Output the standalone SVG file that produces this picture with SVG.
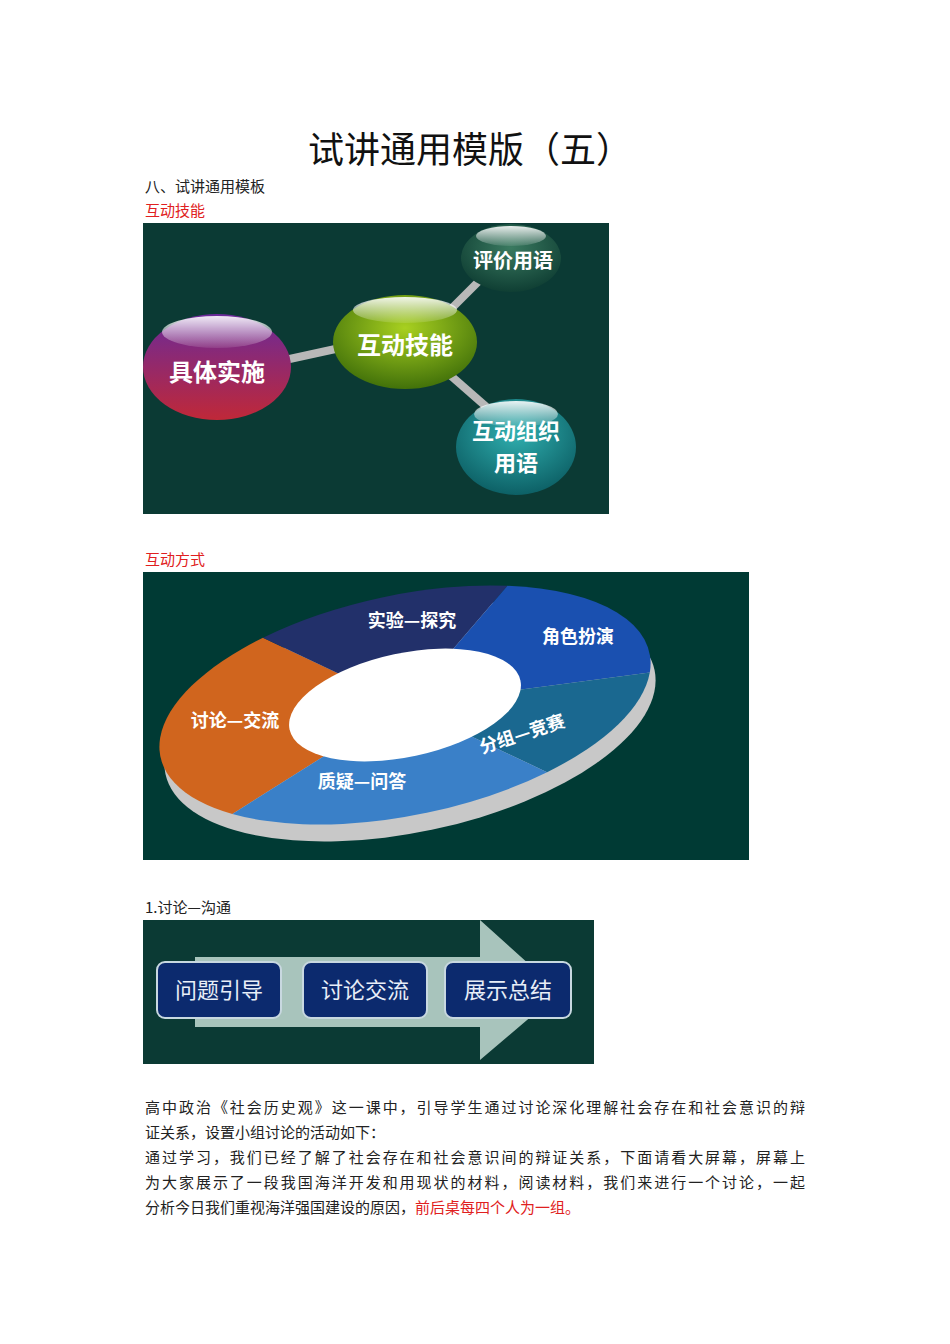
<svg xmlns="http://www.w3.org/2000/svg" width="950" height="1344" viewBox="0 0 950 1344">
<style>
text{font-family:"Noto Sans CJK SC","Liberation Sans",sans-serif}
.p{font-size:15px;fill:#222}
.r{font-size:15px;fill:#e02020}
.nl{font-size:24px;font-weight:bold;fill:#fff;text-anchor:middle}
.bx{fill:#0c2a6e;stroke:#c8d8e0;stroke-width:2}
.bt{font-size:22px;fill:#e8eef8;text-anchor:middle}
</style>
<defs>
<linearGradient id="gp" x1="0" y1="0" x2="0" y2="1"><stop offset="0" stop-color="#6a2a9a"/><stop offset="1" stop-color="#c02838"/></linearGradient>
<radialGradient id="gg" cx="0.5" cy="0.35" r="0.7"><stop offset="0" stop-color="#a8d020"/><stop offset="1" stop-color="#3a6a08"/></radialGradient>
<radialGradient id="gd" cx="0.5" cy="0.35" r="0.7"><stop offset="0" stop-color="#3a7a60"/><stop offset="1" stop-color="#0c3a30"/></radialGradient>
<radialGradient id="gt" cx="0.5" cy="0.35" r="0.7"><stop offset="0" stop-color="#30b0b0"/><stop offset="1" stop-color="#0a5a60"/></radialGradient>
<linearGradient id="sh" x1="0" y1="0" x2="0" y2="1"><stop offset="0" stop-color="#fff" stop-opacity="0.9"/><stop offset="1" stop-color="#fff" stop-opacity="0.1"/></linearGradient>
</defs>
<text x="470" y="163" font-size="36" text-anchor="middle" fill="#111">试讲通用模版（五）</text>
<text class="p" x="145" y="192">八、试讲通用模板</text>
<text class="r" x="145" y="216">互动技能</text>
<g id="pic1">
<rect x="143" y="223" width="466" height="291" fill="#0b3a34"/>
<g id="connectors" stroke="#b8b8b8" stroke-width="8">
<line x1="285" y1="360" x2="340" y2="348"/>
<line x1="450" y1="310" x2="480" y2="280"/>
<line x1="450" y1="375" x2="490" y2="410"/>
</g>
<g id="n1"><ellipse cx="217" cy="367" rx="74" ry="53" fill="url(#gp)"/><ellipse cx="217" cy="332" rx="55" ry="16" fill="url(#sh)"/><text class="nl" x="217" y="381">具体实施</text></g>
<g id="n2"><ellipse cx="405" cy="342" rx="72" ry="47" fill="url(#gg)"/><ellipse cx="405" cy="310" rx="52" ry="13" fill="url(#sh)"/><text class="nl" x="405" y="354">互动技能</text></g>
<g id="n3"><ellipse cx="511" cy="258" rx="50" ry="34" fill="url(#gd)"/><ellipse cx="511" cy="236" rx="35" ry="10" fill="url(#sh)"/><text class="nl" x="513" y="268" style="font-size:20px">评价用语</text></g>
<g id="n4"><ellipse cx="516" cy="447" rx="60" ry="48" fill="url(#gt)"/><ellipse cx="516" cy="414" rx="42" ry="13" fill="url(#sh)"/><text class="nl" x="516" y="439" style="font-size:22px">互动组织</text><text class="nl" x="516" y="471" style="font-size:22px">用语</text></g>
</g>
<text class="r" x="145" y="565">互动方式</text>
<g id="pic2">
<rect x="143" y="572" width="606" height="288" fill="#003a34"/>
<g transform="translate(410,722) rotate(-12) scale(1,0.44)"><circle r="250" fill="#c8c8c8"/></g>
<g transform="translate(405,705) rotate(-12) scale(1,0.44)">
<path d="M0 0 L-191.5 160.7 A250 250 0 0 1 -125 -216.5Z" fill="#d0651e"/>
<path d="M0 0 L-125 -216.5 A250 250 0 0 1 125 -216.5Z" fill="#22306a"/>
<path d="M0 0 L125 -216.5 A250 250 0 0 1 246.2 43.4Z" fill="#1a50b0"/>
<path d="M0 0 L246.2 43.4 A250 250 0 0 1 125 216.5Z" fill="#1a6890"/>
<path d="M0 0 L125 216.5 A250 250 0 0 1 -191.5 160.7Z" fill="#3a80c8"/>
<circle r="118" fill="#fff"/>
</g>
<g font-weight="bold" font-size="18">
<text x="412" y="627" text-anchor="middle" fill="#fff">实验—探究</text>
<text x="578" y="643" text-anchor="middle" fill="#fff">角色扮演</text>
<text x="235" y="727" text-anchor="middle" fill="#fff">讨论—交流</text>
<text x="524" y="740" text-anchor="middle" fill="#fff" transform="rotate(-18 524 740)">分组—竞赛</text>
<text x="362" y="788" text-anchor="middle" fill="#fff">质疑—问答</text>
</g>
</g>
<text class="p" x="145" y="913">1.讨论—沟通</text>
<g id="pic3">
<rect x="143" y="920" width="451" height="144" fill="#0b3a34"/>
<path d="M195 957 H480 V920 L560 992 L480 1060 V1027 H195Z" fill="#a8c4bc"/>
<g id="b1"><rect class="bx" x="157" y="962" width="124" height="56" rx="8"/><text class="bt" x="219" y="998">问题引导</text></g>
<g id="b2"><rect class="bx" x="303" y="962" width="124" height="56" rx="8"/><text class="bt" x="365" y="998">讨论交流</text></g>
<g id="b3"><rect class="bx" x="445" y="962" width="126" height="56" rx="8"/><text class="bt" x="508" y="998">展示总结</text></g>
</g>
<text class="p" x="145" y="1113" textLength="660">高中政治《社会历史观》这一课中，引导学生通过讨论深化理解社会存在和社会意识的辩</text>
<text class="p" x="145" y="1138">证关系，设置小组讨论的活动如下：</text>
<text class="p" x="145" y="1163" textLength="660">通过学习，我们已经了解了社会存在和社会意识间的辩证关系，下面请看大屏幕，屏幕上</text>
<text class="p" x="145" y="1188" textLength="660">为大家展示了一段我国海洋开发和用现状的材料，阅读材料，我们来进行一个讨论，一起</text>
<text class="p" x="145" y="1213">分析今日我们重视海洋强国建设的原因，<tspan fill="#e02020">前后桌每四个人为一组。</tspan></text>
</svg>
